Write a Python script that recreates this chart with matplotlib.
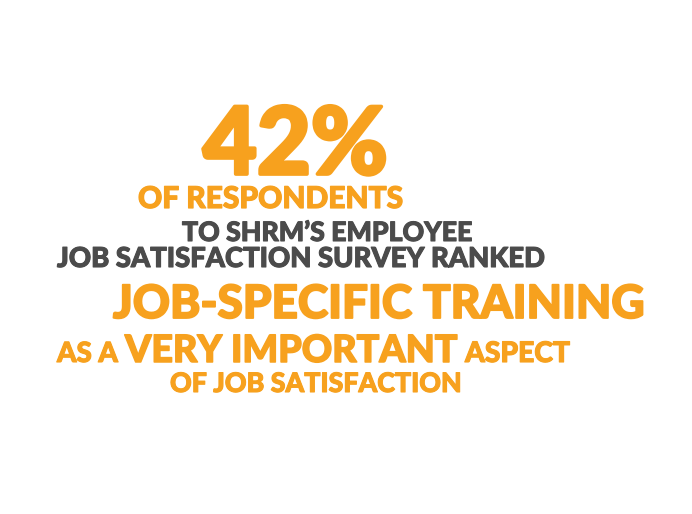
import matplotlib
matplotlib.use("Agg")
import matplotlib.pyplot as plt
import matplotlib.patheffects as pe

# text pieces of the infographic, one per line/segment
pieces = ["42%", "OF RESPONDENTS", "TO SHRM\u2019S EMPLOYEE",
          "JOB SATISFACTION SURVEY RANKED", "JOB-SPECIFIC TRAINING",
          "AS A", "VERY IMPORTANT", "ASPECT", "OF JOB SATISFACTION"]
orange = "#F7A11E"
grey = "#4B4B4B"
colors = [orange, orange, grey, grey, orange, orange, orange, orange, orange]

# where each piece sits (pixels): left edge, right edge, baseline
left = [203, 138, 182, 57, 113, 57, 125, 465, 170]
right = [388, 403, 472, 545, 645, 118, 457, 570, 462]
base = [174, 208, 241, 267, 318, 362, 362, 362, 392]

W, H = 692, 514
fig = plt.figure(figsize=(W / 100, H / 100), dpi=100)
fig.patch.set_facecolor("white")

renderer = fig.canvas.get_renderer()
for s, c, x0, x1, yb in zip(pieces, colors, left, right, base):
    t = fig.text(x0 / W, 1 - yb / H, s, color=c, fontsize=20,
                 fontweight="black", family=["Lato", "DejaVu Sans"],
                 ha="left", va="baseline")
    w = t.get_window_extent(renderer).width
    fs = 20 * (x1 - x0) / w
    t.set_fontsize(fs)
    t.set_path_effects([pe.withStroke(linewidth=fs * 0.04, foreground=c)])

fig.savefig("out.png", dpi=100, facecolor="white")
